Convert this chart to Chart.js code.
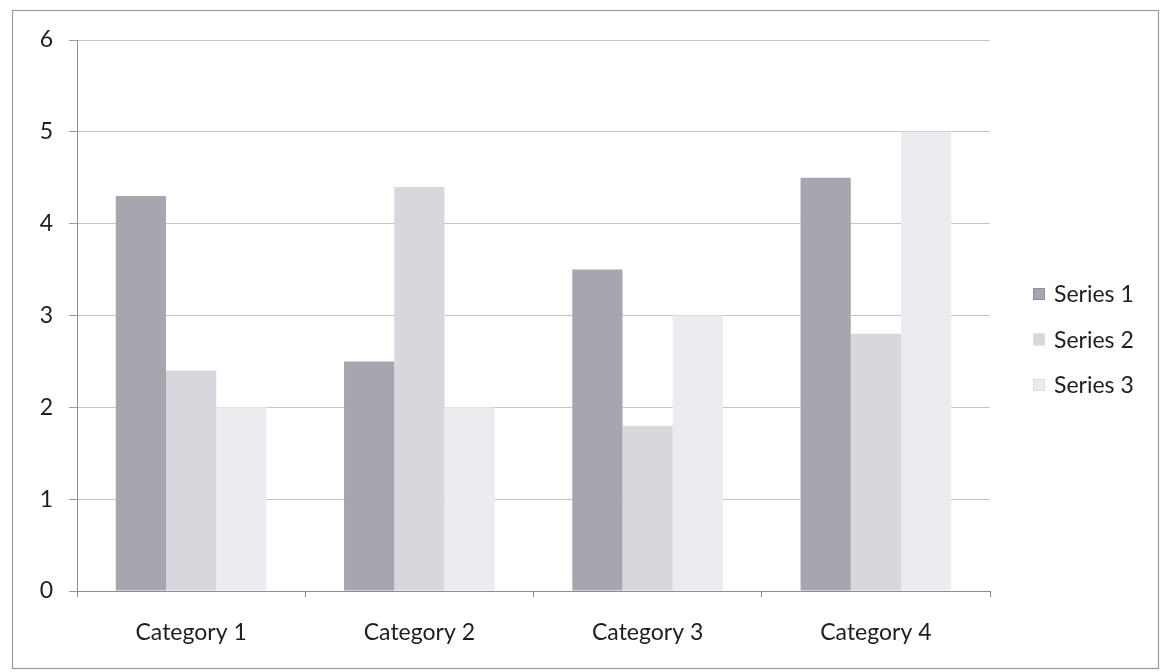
<!DOCTYPE html>
<html>
<head>
<meta charset="utf-8">
<style>
  html, body { margin: 0; padding: 0; background: #ffffff; }
  #wrap { width: 1161px; height: 672px; position: relative; }
</style>
<script src="https://cdn.jsdelivr.net/npm/chart.js@4/dist/chart.umd.min.js"></script>
</head>
<body>
<div id="wrap"><canvas id="chart" width="1161" height="672"></canvas></div>
<script>
// Chart data
const categories = ['Category 1', 'Category 2', 'Category 3', 'Category 4'];
const seriesNames = ['Series 1', 'Series 2', 'Series 3'];
const series1 = [4.3, 2.5, 3.5, 4.5];
const series2 = [2.4, 4.4, 1.8, 2.8];
const series3 = [2.0, 2.0, 3.0, 5.0];
const yTicks = [0, 1, 2, 3, 4, 5, 6];

const seriesColors = ['#a6a7ae', '#d7d8dd', '#ebecf0'];
const fontFamily = 'Lato, "Open Sans", "DejaVu Sans", sans-serif';
const textColor = '#1e1e1e';

// Outer frame around the whole chart
const framePlugin = {
  id: 'frame',
  beforeDraw(chart) {
    const ctx = chart.ctx;
    ctx.save();
    ctx.fillStyle = '#ffffff';
    ctx.fillRect(0, 0, chart.width, chart.height);
    ctx.strokeStyle = '#9a9aa2';
    ctx.lineWidth = 1.2;
    ctx.strokeRect(12.5, 10.5, 1146, 658);
    ctx.restore();
  }
};

// Legend drawn at the right, one row per dataset
const sideLegend = {
  id: 'sideLegend',
  afterDraw(chart) {
    const ctx = chart.ctx;
    ctx.save();
    ctx.font = '23px ' + fontFamily;
    ctx.textBaseline = 'middle';
    ctx.textAlign = 'left';
    const x0 = 1033, yStart = 294, step = 45.5;
    chart.data.datasets.forEach((ds, i) => {
      const y = yStart + i * step;
      ctx.fillStyle = ds.backgroundColor;
      ctx.fillRect(x0, y - 6, 12, 12);
      ctx.strokeStyle = i === 0 ? '#8d8e96' : '#dcdde2';
      ctx.lineWidth = 1;
      ctx.strokeRect(x0 + 0.5, y - 5.5, 11, 11);
      ctx.fillStyle = textColor;
      ctx.fillText(ds.label, x0 + 21, y + 1);
    });
    ctx.restore();
  }
};

new Chart(document.getElementById('chart'), {
  type: 'bar',
  data: {
    labels: categories,
    datasets: [
      { label: seriesNames[0], data: series1, backgroundColor: seriesColors[0] },
      { label: seriesNames[1], data: series2, backgroundColor: seriesColors[1] },
      { label: seriesNames[2], data: series3, backgroundColor: seriesColors[2] }
    ]
  },
  options: {
    responsive: false,
    animation: false,
    devicePixelRatio: 1,
    layout: { padding: { left: 12, right: 171, top: 40, bottom: 21 } },
    datasets: { bar: { categoryPercentage: 0.66, barPercentage: 1.0, borderWidth: 0 } },
    plugins: {
      legend: { display: false },
      tooltip: { enabled: false },
      title: { display: false }
    },
    scales: {
      x: {
        afterFit(axis) { axis.height = 60; },
        grid: {
          offset: true,
          drawOnChartArea: false,
          drawTicks: true,
          tickLength: 6,
          color: '#8c8c94'
        },
        border: { display: true, color: '#8c8c94', width: 1 },
        ticks: {
          color: textColor,
          font: { family: fontFamily, size: 23 },
          padding: 22,
          maxRotation: 0
        }
      },
      y: {
        min: yTicks[0],
        max: yTicks[yTicks.length - 1],
        afterFit(axis) { axis.width = 65; },
        afterBuildTicks(axis) { axis.ticks = yTicks.map(v => ({ value: v })); },
        grid: {
          color: '#c4c4ca',
          lineWidth: 1,
          drawTicks: true,
          tickLength: 8,
          tickColor: '#9a9aa2'
        },
        border: { display: true, color: '#8c8c94', width: 1, dash: [] },
        ticks: {
          color: textColor,
          font: { family: fontFamily, size: 23 },
          padding: 16,
          stepSize: 1
        }
      }
    }
  },
  plugins: [framePlugin, sideLegend]
});
</script>
</body>
</html>
